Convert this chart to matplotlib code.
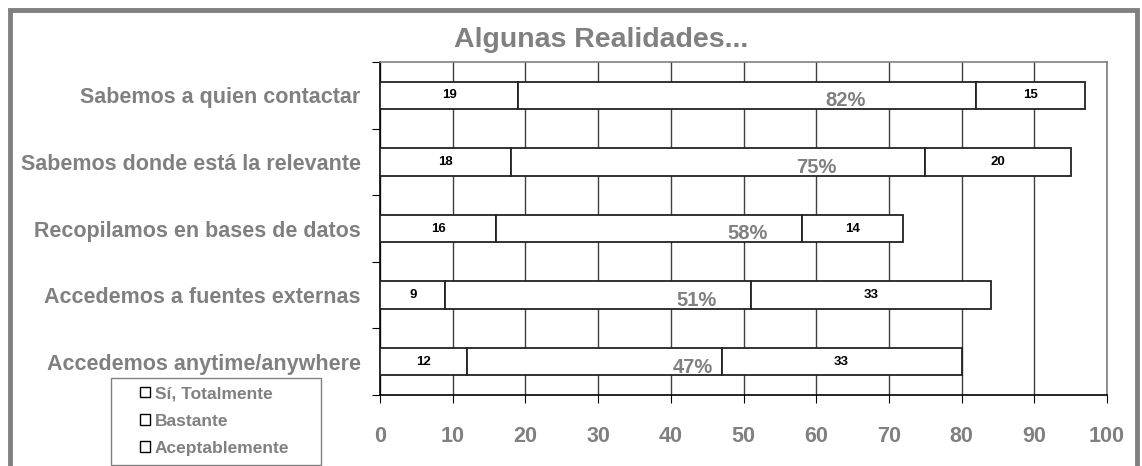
import matplotlib.pyplot as plt
from matplotlib.patches import Patch, Rectangle

plt.rcParams['font.family'] = ['Liberation Sans', 'DejaVu Sans']

categories = ["Sabemos a quien contactar", "Sabemos donde está la relevante",
              "Recopilamos en bases de datos", "Accedemos a fuentes externas",
              "Accedemos anytime/anywhere"]
series_names = ["Sí, Totalmente", "Bastante", "Aceptablemente"]
totalmente = [19, 18, 16, 9, 12]
bastante = [63, 57, 42, 42, 35]
aceptable = [15, 20, 14, 33, 33]
pct_labels = ["82%", "75%", "58%", "51%", "47%"]
x_ticks = [0, 10, 20, 30, 40, 50, 60, 70, 80, 90, 100]

grey = '#808080'
W, H = 1142, 466

fig = plt.figure(figsize=(W / 100, H / 100), dpi=100)
ax = fig.add_axes([380 / W, 1 - 395 / H, 727 / W, 333 / H])

ys = list(range(len(categories)))
h = 0.41
left = [0] * len(ys)
for vals in (totalmente, bastante, aceptable):
    ax.barh(ys, vals, left=left, height=h, color='white', edgecolor='#222222',
            linewidth=1.3, zorder=3)
    left = [l + v for l, v in zip(left, vals)]

for y, a, b, c, p in zip(ys, totalmente, bastante, aceptable, pct_labels):
    ax.text(a / 2, y, str(a), ha='center', va='center', fontsize=9.5,
            fontweight='bold', color='black', zorder=4)
    ax.text(a + b / 2 + 13.5, y + 0.08, p, ha='center', va='center', fontsize=14.5,
            fontweight='bold', color=grey, zorder=4)
    ax.text(a + b + c / 2, y, str(c), ha='center', va='center', fontsize=9.5,
            fontweight='bold', color='black', zorder=4)

ax.set_xlim(0, 100)
ax.set_ylim(len(ys) - 0.5, -0.5)
ax.set_xticks(x_ticks)
ax.set_xticklabels([str(t) for t in x_ticks], fontsize=15.5, fontweight='bold', color=grey)
ax.set_yticks([y - 0.5 for y in range(len(ys) + 1)], minor=False)
ax.set_yticklabels([])
ax.set_yticks(ys, minor=True)
ax.set_yticklabels(categories, minor=True, fontsize=15.5, fontweight='bold', color=grey)
ax.tick_params(axis='y', which='minor', length=0, pad=14)
ax.tick_params(axis='y', which='major', length=6, direction='out')
ax.tick_params(axis='x', length=6, direction='out', pad=16, color='black')

ax.grid(axis='x', color='#404040', linewidth=1, zorder=0)
ax.spines['top'].set_color(grey)
ax.spines['right'].set_color(grey)
ax.spines['left'].set_color('black')
ax.spines['bottom'].set_color('black')
for s in ax.spines.values():
    s.set_linewidth(1.2)

fig.text(0.5 * (453 + 750) / W, 1 - 40 / H, "Algunas Realidades...", ha='center',
         va='center', fontsize=20.5, fontweight='bold', color=grey)

# legend: frame drawn separately so the box is as wide as the original
handles = [Patch(facecolor='white', edgecolor='black', linewidth=1) for _ in series_names]
leg = fig.legend(handles, series_names, loc='center left',
                 bbox_to_anchor=(128 / W, 1 - 421 / H),
                 frameon=False, handlelength=0.55, handleheight=0.55,
                 handletextpad=0.3, labelspacing=0.7, borderpad=0.2,
                 prop={'size': 12.5, 'weight': 'bold'})
for t in leg.get_texts():
    t.set_color(grey)
fig.patches.append(Rectangle((111 / W, 1 - 465 / H), 210 / W, 87 / H,
                             transform=fig.transFigure, fill=False,
                             edgecolor=grey, linewidth=1))

fig.patches.append(Rectangle((10 / W, -0.1), 1127 / W, 1.1 - 10 / H,
                             transform=fig.transFigure, fill=False,
                             edgecolor=grey, linewidth=3.5))

fig.savefig('out.png', dpi=100)
